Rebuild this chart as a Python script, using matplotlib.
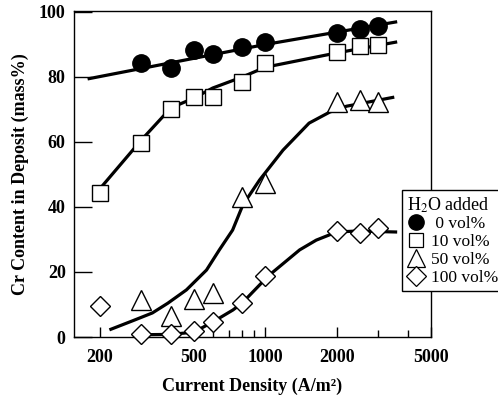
import matplotlib
matplotlib.use("Agg")
import matplotlib.pyplot as plt
from matplotlib.ticker import FixedLocator, NullFormatter

plt.rcParams['font.family'] = ['Liberation Serif', 'DejaVu Serif']
plt.rcParams['mathtext.fontset'] = 'stix'

# measured points
density = [300, 400, 500, 600, 800, 1000, 2000, 2500, 3000]
cr_0 = [84.3, 82.8, 88.3, 87.1, 89.2, 90.8, 93.5, 94.8, 95.7]

density_10 = [200, 300, 400, 500, 600, 800, 1000, 2000, 2500, 3000]
cr_10 = [44.3, 59.7, 70.2, 73.8, 73.8, 78.5, 84.3, 87.7, 89.5, 89.8]

density_50 = [300, 400, 500, 600, 800, 1000, 2000, 2500, 3000]
cr_50 = [11.4, 6.5, 11.7, 13.5, 43.0, 47.4, 72.3, 72.9, 72.3]

density_100 = [200, 300, 400, 500, 600, 800, 1000, 2000, 2500, 3000]
cr_100 = [9.5, 0.9, 1.0, 1.8, 4.6, 10.5, 18.8, 32.6, 32.0, 33.5]

# hand drawn trend curves
fit0_x = [178, 1000, 3600]
fit0_y = [79.4, 90.0, 97.0]
fit10_x = [200, 300, 400, 500, 600, 800, 1000, 2000, 3600]
fit10_y = [45.5, 60.6, 70.5, 73.5, 76.6, 80.0, 83.0, 87.4, 90.8]
fit50_x = [220, 276, 334, 388, 465, 565, 640, 728, 804, 946, 1188, 1530, 1870, 2200, 3500]
fit50_y = [2.2, 5.0, 7.4, 10.4, 14.5, 20.6, 26.8, 32.9, 40.6, 48.3, 57.5, 65.8, 69.2, 71.0, 73.8]
fit100_x = [300, 400, 500, 600, 730, 800, 1030, 1396, 1640, 2000, 2420, 3600]
fit100_y = [0.7, 0.8, 1.5, 4.6, 8.3, 10.5, 18.8, 26.8, 29.8, 32.3, 32.6, 32.3]

legend_labels = [' 0 vol%', '10 vol%', '50 vol%', '100 vol%']

fig = plt.figure(figsize=(4.98, 3.96), dpi=100)
ax = fig.add_axes([74 / 498, 1 - 337 / 396, 357 / 498, 326 / 396])

lw = 2.3
ax.plot(fit0_x, fit0_y, color='black', lw=lw, solid_capstyle='butt')
ax.plot(fit10_x, fit10_y, color='black', lw=lw, solid_capstyle='butt')
ax.plot(fit50_x, fit50_y, color='black', lw=lw, solid_capstyle='butt')
ax.plot(fit100_x, fit100_y, color='black', lw=lw, solid_capstyle='butt')

mk = dict(linestyle='none', markeredgecolor='black', markeredgewidth=1.0,
          clip_on=False, zorder=3)
ax.plot(density, cr_0, marker='o', ms=12.5, markerfacecolor='black', **mk)
ax.plot(density_10, cr_10, marker='s', ms=11, markerfacecolor='white', **mk)
ax.plot(density_50, cr_50, marker='^', ms=14, markerfacecolor='white', **mk)
ax.plot(density_100, cr_100, marker='D', ms=10.5, markerfacecolor='white', **mk)

ax.set_xscale('log')
ax.set_xlim(156, 5000)
ax.set_ylim(0, 100.3)

ax.xaxis.set_major_locator(FixedLocator([200, 500, 1000, 2000, 5000]))
ax.xaxis.set_minor_locator(FixedLocator([300, 400, 600, 700, 800, 900, 3000, 4000]))
ax.xaxis.set_minor_formatter(NullFormatter())
ax.set_xticklabels(['200', '500', '1000', '2000', '5000'])
ax.set_yticks([0, 20, 40, 60, 80, 100])

ax.tick_params(axis='x', which='major', direction='in', length=7, width=1,
               pad=9, labelsize=13)
ax.tick_params(axis='x', which='minor', direction='in', length=5, width=1)
ax.tick_params(axis='y', which='major', direction='in', length=13, width=1,
               pad=6, labelsize=13)
for lab in ax.get_xticklabels() + ax.get_yticklabels():
    lab.set_fontweight('bold')
for sp in ax.spines.values():
    sp.set_linewidth(1)

ax.set_xlabel('Current Density (A/m²)', fontsize=13, fontweight='bold', labelpad=8)
ax.set_ylabel('Cr Content in Deposit (mass%)', fontsize=13, fontweight='bold', labelpad=7)

lh0, = ax.plot([], [], marker='o', ms=11, linestyle='none', markerfacecolor='black',
               markeredgecolor='black')
lh10, = ax.plot([], [], marker='s', ms=10.5, linestyle='none', markerfacecolor='white',
                markeredgecolor='black', markeredgewidth=0.9)
lh50, = ax.plot([], [], marker='^', ms=13, linestyle='none', markerfacecolor='white',
                markeredgecolor='black', markeredgewidth=0.9)
lh100, = ax.plot([], [], marker='D', ms=10, linestyle='none', markerfacecolor='white',
                 markeredgecolor='black', markeredgewidth=0.9)

leg = fig.legend([lh0, lh10, lh50, lh100], legend_labels,
                 title='H$_2$O added', loc='upper left',
                 bbox_to_anchor=(402 / 498, 1 - 190 / 396),
                 fontsize=12.5, title_fontsize=13, frameon=True, fancybox=False,
                 edgecolor='black', framealpha=1, handlelength=1.0,
                 handletextpad=0.35, labelspacing=0.1, borderpad=0.3,
                 borderaxespad=0)
leg.get_frame().set_linewidth(1)
leg._legend_box.align = 'left'

fig.savefig('out.png', dpi=100)
